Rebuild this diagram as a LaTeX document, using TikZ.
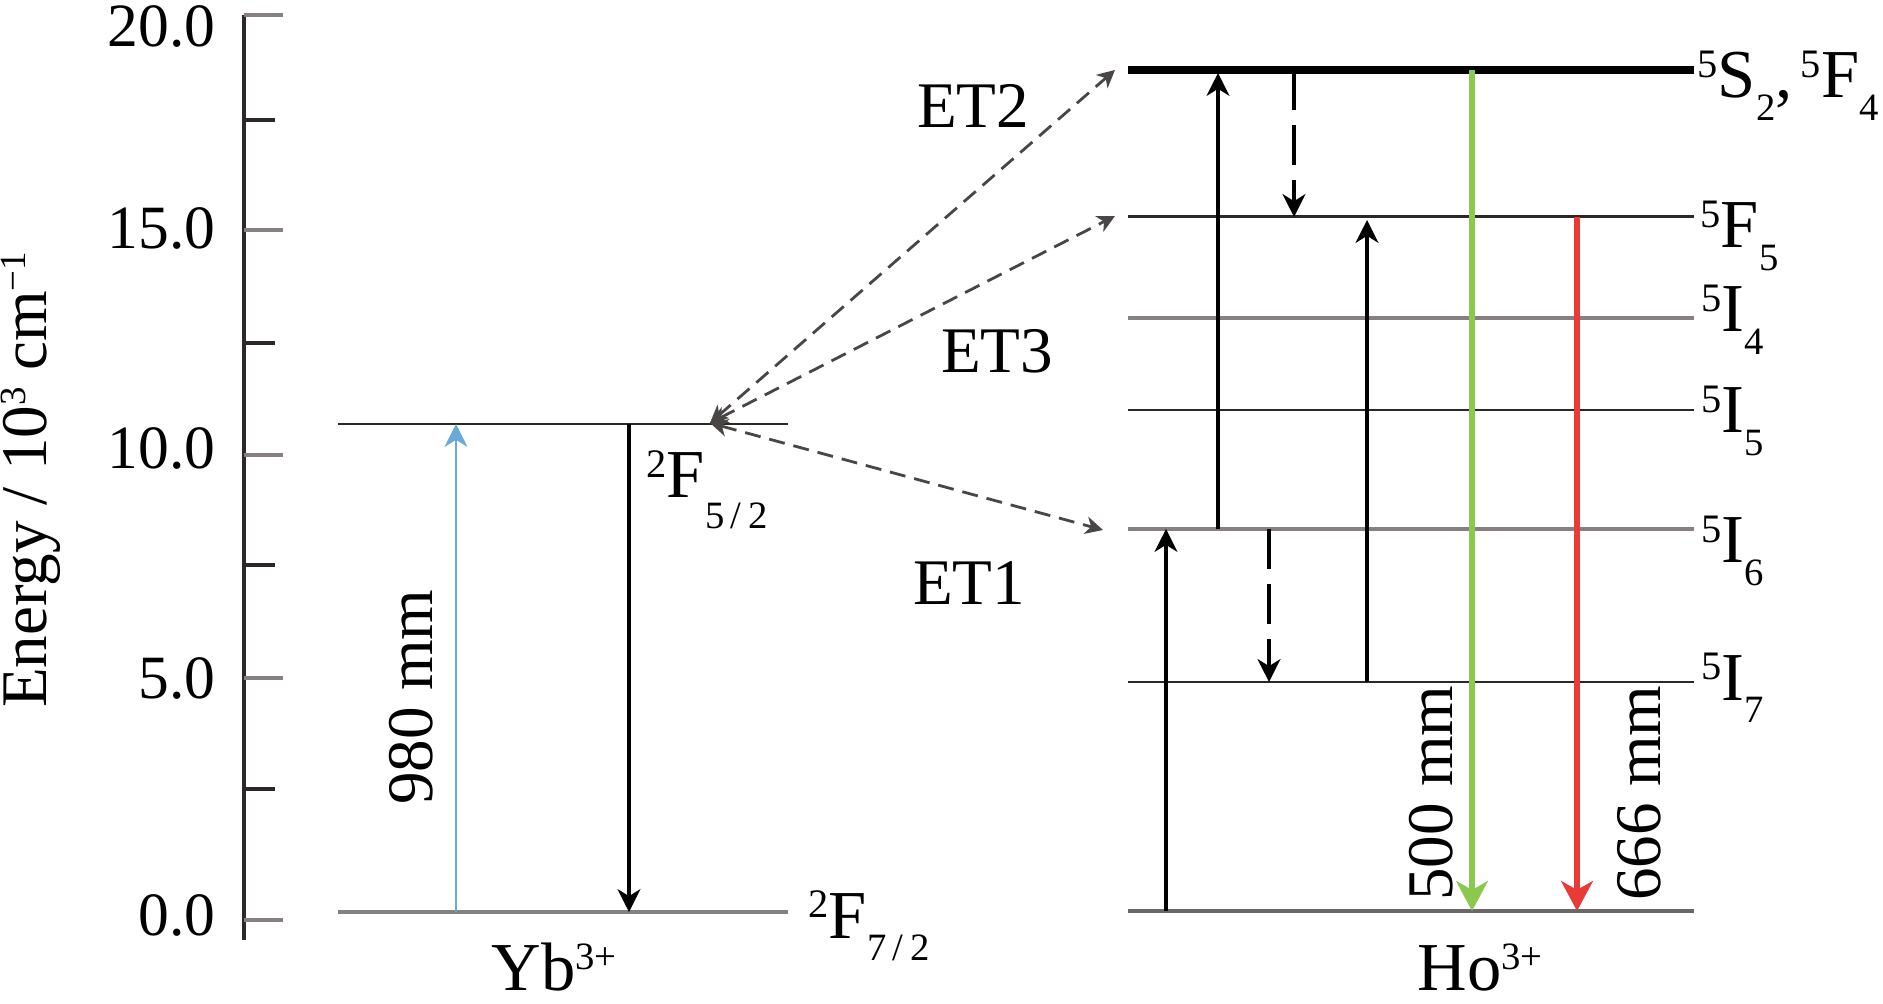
\documentclass[tikz,border=0pt]{standalone}
\usepackage{fontspec}
\setmainfont{Liberation Serif}
\usetikzlibrary{arrows.meta}
\definecolor{ybblue}{RGB}{105, 170, 215}
\definecolor{hogreen}{RGB}{140, 200, 80}
\definecolor{hored}{RGB}{232, 58, 55}
\definecolor{lvlgray}{RGB}{135, 128, 128}
\definecolor{lvldark}{RGB}{45, 40, 40}
\definecolor{etgray}{RGB}{75, 70, 70}
\tikzset{axis/.style = {lvldark, line width=1.4pt}}
\tikzset{tickmaj/.style = {lvlgray, line width=1.1pt}}
\tikzset{tickmin/.style = {lvldark, line width=1pt}}
\tikzset{level/.style = {lvldark, line width=0.85pt}}
\tikzset{levelgray/.style = {lvlgray, line width=1.1pt}}
\tikzset{levelthick/.style = {black, line width=2.5pt}}
\tikzset{up/.style = {black, line width=0.95pt, -{Stealth[length=6.5pt, width=6.5pt, inset=2pt]}}}
\tikzset{relax/.style = {black, line width=1pt, dash pattern=on 0.4cm off 0.15cm,
                         -{Stealth[length=6.5pt, width=6.5pt, inset=2pt]}}}
\tikzset{emit/.style = {line width=1.6pt, -{Stealth[length=8.5pt, width=9pt, inset=2.5pt]}}}
\tikzset{et/.style = {etgray, line width=0.8pt, dash pattern=on 0.16cm off 0.09cm,
                      {Stealth[length=5pt, width=5pt, inset=1.5pt]}-{Stealth[length=5pt, width=5pt, inset=1.5pt]}}}
\tikzset{lbl/.style = {inner sep=0, anchor=base west, font=\fontsize{19.5}{20}\selectfont}}
\tikzset{txt/.style = {inner sep=0, anchor=base, font=\fontsize{18.5}{20}\selectfont}}
\tikzset{ticklbl/.style = {inner sep=0, anchor=east, font=\fontsize{17.5}{18}\selectfont}}
\newcommand{\lvl}[4][0.33em]{%
  \raisebox{0.3em}{\fontsize{11.5}{12}\selectfont #2}#3\raisebox{-#1}{\fontsize{11}{12}\selectfont #4}}
\newcommand{\ion}[1]{#1\raisebox{0.3em}{\fontsize{11}{12}\selectfont 3+}}

\begin{document}
\begin{tikzpicture}[x=0.01cm, y=-0.01cm]
  \useasboundingbox (0, 0) rectangle (1883, 1004);

  % energy axis
  \draw [axis] (244, 15) -- (244, 940);
  \foreach \y in {15, 230, 455, 678, 920} {
    \draw [tickmaj] (244, \y) -- (283, \y);
  }
  \foreach \y in {120, 343, 565, 789} {
    \draw [tickmin] (244, \y) -- (275, \y);
  }
  \foreach \y/\t [count=\i] in {26/20.0, 228/15.0, 448/10.0, 678/5.0, 915/0.0} {
    \node [ticklbl] (tick\i) at (216, \y) {\t};
  }
  \node [inner sep=0, anchor=base, rotate=90, font=\fontsize{18.5}{19}\selectfont] (ylabel) at (47, 480)
    {Energy / 10\raisebox{0.33em}{\fontsize{10.5}{11}\selectfont 3} cm\raisebox{0.33em}{\fontsize{10.5}{11}\selectfont −1}};

  % Yb levels
  \coordinate (F72-l) at (338, 912);
  \coordinate (F72-r) at (788, 912);
  \coordinate (F52-l) at (338, 424);
  \coordinate (F52-r) at (788, 424);
  \coordinate (apex) at (710, 423);
  \draw [lvlgray, line width=1.4pt] (F72-l) -- (F72-r);
  \draw [level] (F52-l) -- (F52-r);

  % Ho levels
  \foreach \name/\y in {S2/70, F5/217, I4/318, I5/410, I6/529, I7/682, G/911} {
    \coordinate (\name-l) at (1128, \y);
    \coordinate (\name-r) at (1694, \y);
  }
  \draw [levelthick] (S2-l) -- (S2-r);
  \draw [level] (F5-l) -- (F5-r);
  \draw [levelgray] (I4-l) -- (I4-r);
  \draw [level] (I5-l) -- (I5-r);
  \draw [levelgray] (I6-l) -- (I6-r);
  \draw [level] (I7-l) -- (I7-r);
  \draw [lvlgray!80!black, line width=1.1pt] (G-l) -- (G-r);

  % transitions
  \coordinate (pump) at (456, 0);
  \coordinate (decay) at (629, 0);
  \coordinate (t1) at (1166, 0);
  \coordinate (t2) at (1218, 0);
  \coordinate (t3) at (1269, 0);
  \coordinate (t4) at (1294, 0);
  \coordinate (t5) at (1367, 0);
  \coordinate (tgreen) at (1472, 0);
  \coordinate (tred) at (1577, 0);

  \draw [ybblue, line width=0.8pt, -{Stealth[length=6.5pt, width=6.5pt, inset=2pt]}] (pump |- F72-l) -- (pump |- F52-l);
  \draw [up] (decay |- F52-l) -- (decay |- F72-l);

  \draw [up] (t1 |- G-l) -- (t1 |- I6-l);
  \draw [up, shorten >=0.03cm] (t2 |- I6-l) -- (t2 |- S2-l);
  \draw [relax] (t3 |- I6-l) -- (t3 |- I7-l);
  \draw [relax] (t4 |- S2-l) -- (t4 |- F5-l);
  \draw [up, shorten >=0.03cm] (t5 |- I7-l) -- (t5 |- F5-l);
  \draw [emit, hogreen] (tgreen |- S2-l) -- (tgreen |- G-l);
  \draw [emit, hored] (tred |- F5-l) -- (tred |- G-l);

  % energy transfer
  \coordinate (et2-end) at (1115, 70);
  \coordinate (et3-end) at (1115, 216);
  \coordinate (et1-end) at (1103, 530);
  \draw [et] (apex) -- (et2-end);
  \draw [et] (apex) -- (et3-end);
  \draw [et] (apex) -- (et1-end);
  \node [txt] (et2) at (973, 128) {ET2};
  \node [txt] (et3) at (997, 373) {ET3};
  \node [txt] (et1) at (969, 605) {ET1};

  % wavelengths
  \node [txt, rotate=90] (w980) at (432, 697) {980 mm};
  \node [txt, rotate=90] (w500) at (1452, 793) {500 mm};
  \node [txt, rotate=90] (w666) at (1660, 793) {666 mm};

  % term labels
  \node [lbl] (lF52) at (646, 498) {\lvl[0.45em]{2}{F}{5\,/\,2}};
  \node [lbl] (lF72) at (808, 938) {\lvl{2}{F}{7\,/\,2}};
  \node [lbl] (lS2) at (1697, 98) {\lvl{5}{S}{2},\hspace{0.12em}\lvl{5}{F}{4}};
  \node [lbl] (lF5) at (1700, 248) {\lvl{5}{F}{5}};
  \node [lbl] (lI4) at (1701, 332) {\lvl{5}{I}{4}};
  \node [lbl] (lI5) at (1701, 433) {\lvl{5}{I}{5}};
  \node [lbl] (lI6) at (1701, 563) {\lvl{5}{I}{6}};
  \node [lbl] (lI7) at (1701, 700) {\lvl{5}{I}{7}};

  % ions
  \node [lbl] (yb) at (491, 990) {\ion{Yb}};
  \node [lbl] (ho) at (1417, 990) {\ion{Ho}};
\end{tikzpicture}
\end{document}
